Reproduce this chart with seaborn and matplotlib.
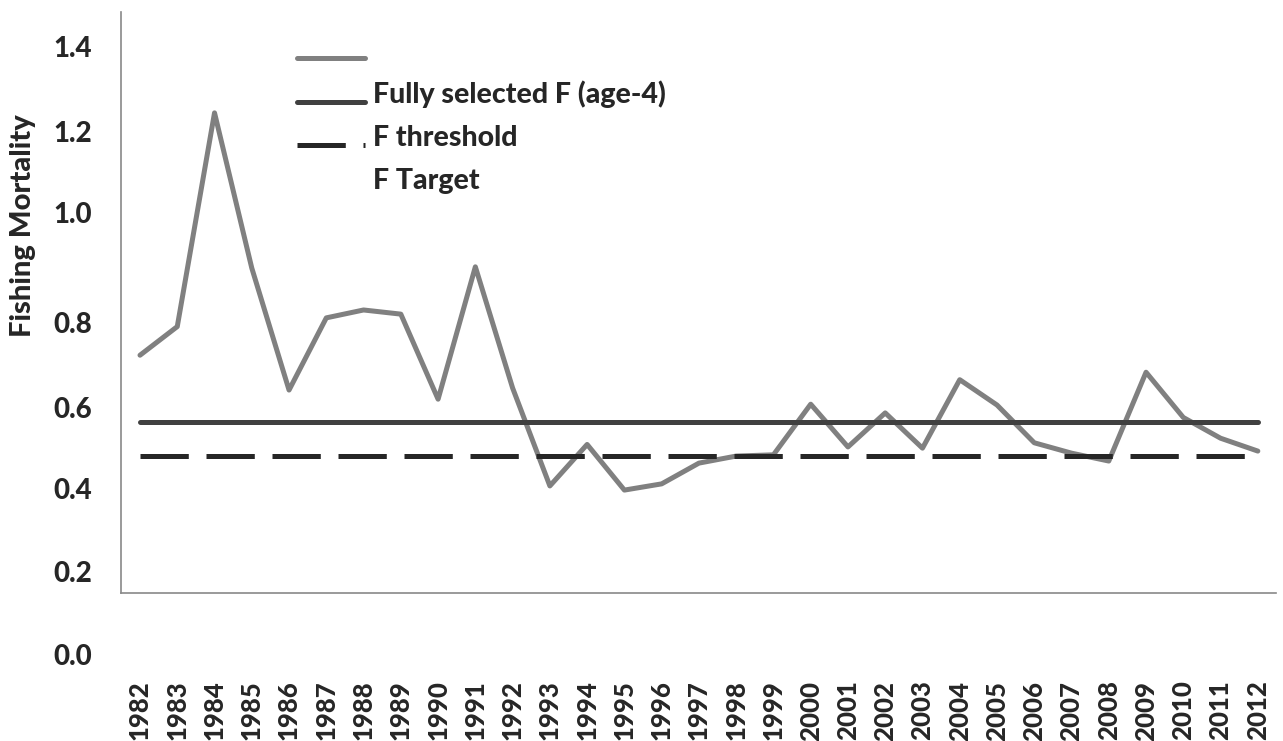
import numpy as np
import pandas as pd
import seaborn as sns
import matplotlib
matplotlib.use("Agg")
import matplotlib.pyplot as plt
from matplotlib.lines import Line2D
from matplotlib.transforms import Affine2D

# ---------------- data ----------------
years = list(range(1982, 2013))
fully_selected_f = [0.573, 0.642, 1.157, 0.783, 0.489, 0.663, 0.682, 0.672, 0.467, 0.786,
                    0.494, 0.258, 0.358, 0.248, 0.263, 0.313, 0.330, 0.333, 0.455, 0.352,
                    0.434, 0.349, 0.514, 0.453, 0.362, 0.337, 0.318, 0.532, 0.423, 0.373,
                    0.342]
f_threshold = 0.413
f_target = 0.331

ytick_values = [0.0, 0.2, 0.4, 0.6, 0.8, 1.0, 1.2, 1.4]
ytick_labels = ["0.0", "0.2", "0.4", "0.6", "0.8", "1.0", "1.2", "1.4"]
# the labels in the source chart sit offset from their tick marks
ytick_label_pos = [-0.149, 0.051, 0.253, 0.448, 0.651, 0.916, 1.111, 1.316]

legend_labels = ["", "Fully selected F (age-4)", "F threshold", "F Target"]
y_title = "Fishing Mortality"

# ---------------- style ----------------
sns.set_style("white")
plt.rcParams['font.family'] = ['Lato', 'DejaVu Sans']

WEIGHT = 'black'
GRAY = "#808080"
DARK = "#404040"
DARKER = "#262626"
AXIS = "#898989"
LW = 3.6
DASHES = (9.66, 3.54)
FS = 20

fig = plt.figure(figsize=(12.83, 7.41), dpi=100)
ax = fig.add_axes([0.0946, 0.0877, 0.9003, 0.8961])

df = pd.DataFrame({"year": years, "F": fully_selected_f,
                   "thr": [f_threshold] * len(years),
                   "tgt": [f_target] * len(years)})

sns.lineplot(data=df, x="year", y="F", ax=ax, color=GRAY, lw=LW)
sns.lineplot(data=df, x="year", y="thr", ax=ax, color=DARK, lw=LW)
sns.lineplot(data=df, x="year", y="tgt", ax=ax, color=DARKER, lw=LW, dashes=False)
ax.lines[-1].set_dashes(DASHES)
ax.lines[-1].set_dash_capstyle('butt')

ax.set_xlim(years[0] - 0.5, years[-1] + 0.5)
ax.set_ylim(-0.2, 1.4)

for s in ["top", "right"]:
    ax.spines[s].set_visible(False)
ax.spines["bottom"].set_position(("data", 0))
ax.spines["left"].set_bounds(0, 1.4)
for s in ["left", "bottom"]:
    ax.spines[s].set_color(AXIS)
    ax.spines[s].set_linewidth(1.2)

# x ticks: marks at category boundaries, labels at category centres
bounds = [y - 0.5 for y in years] + [years[-1] + 0.5]
ax.set_xticks(bounds)
ax.set_xticklabels([])
ax.set_xticks(years, minor=True)
ax.set_xticklabels([str(y) for y in years], minor=True, rotation=90,
                   fontsize=FS - 1.5, fontweight=WEIGHT)
ax.tick_params(axis='x', which='major', length=7, width=1.2, color=AXIS, direction='out')
ax.tick_params(axis='x', which='minor', length=0, pad=63)

# y ticks
ax.set_yticks(ytick_values)
ax.set_yticklabels([])
ax.set_yticks(ytick_label_pos, minor=True)
ax.set_yticklabels(ytick_labels, minor=True, fontsize=FS, fontweight=WEIGHT)
ax.tick_params(axis='y', which='major', length=7, width=1.2, color=AXIS, direction='out')
ax.tick_params(axis='y', which='minor', length=0, pad=21)

ax.set_xlabel("")
ax.set_ylabel(y_title, fontsize=FS + 1, fontweight=WEIGHT, va='center')
ax.yaxis.set_label_coords(-0.0850, 0.678)

# legend (labels in the source are displaced relative to their keys)
LFS = 20.5
handles = [Line2D([], [], color=GRAY, lw=LW),
           Line2D([], [], color=DARK, lw=LW),
           Line2D([], [], color=DARKER, lw=LW, dashes=DASHES, dash_capstyle='butt'),
           Line2D([], [], color='none', lw=0)]
leg = ax.legend(handles, legend_labels, loc='upper left', bbox_to_anchor=(0.152, 0.948),
                frameon=False, prop={'size': LFS, 'weight': WEIGHT},
                handlelength=2.39, handletextpad=0.27,
                labelspacing=0.59, borderpad=0, borderaxespad=0)
for t in leg.get_texts():
    t.set_transform(t.get_transform() + Affine2D().translate(0, 9))

fig.savefig("out.png", dpi=100)
